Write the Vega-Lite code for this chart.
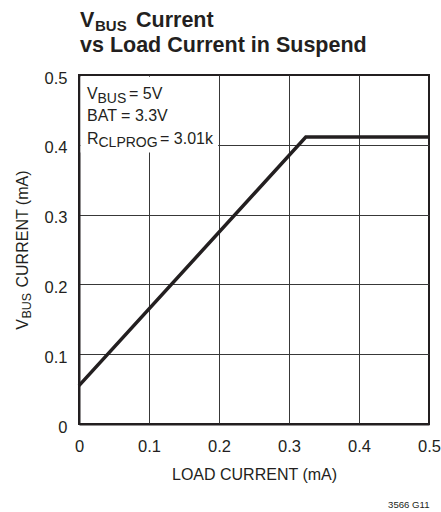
{
  "$schema": "https://vega.github.io/schema/vega-lite/v6.json",
  "width": 350,
  "height": 349,
  "autosize": {"type": "none"},
  "padding": {"left": 79, "top": 75, "right": 12, "bottom": 88},
  "background": "white",
  "config": {
    "view": {"stroke": "#231f20", "strokeWidth": 2},
    "font": "Liberation Sans",
    "text": {"font": "Liberation Sans", "color": "#231f20", "baseline": "alphabetic", "align": "left"}
  },
  "layer": [
    {
      "data": {"values": [
        {"load": 0, "vbus": 0.055},
        {"load": 0.324, "vbus": 0.411},
        {"load": 0.5, "vbus": 0.411}
      ]},
      "mark": {"type": "line", "color": "#231f20", "strokeWidth": 3.5, "strokeJoin": "miter"},
      "encoding": {
        "x": {
          "field": "load", "type": "quantitative",
          "scale": {"domain": [0, 0.5], "nice": false},
          "axis": {
            "values": [0, 0.1, 0.2, 0.3, 0.4, 0.5],
            "format": ".1~f",
            "ticks": false, "tickSize": 0,
            "labelPadding": 14.4,
            "labelFont": "Liberation Sans", "labelFontSize": 16.5, "labelColor": "#231f20",
            "labelFlush": false, "labelOverlap": false,
            "domainColor": "#231f20", "domainWidth": 2,
            "grid": true,
            "gridColor": {"condition": {"test": "datum.value === 0 || datum.value === 0.5", "value": "transparent"}, "value": "#383838"},
            "gridWidth": 1, "gridOpacity": 1,
            "title": "LOAD CURRENT (mA)",
            "titleFont": "Liberation Sans", "titleFontSize": 16, "titleFontWeight": "normal", "titleColor": "#231f20",
            "titleBaseline": "alphabetic", "titleY": 55,
            "zindex": 0
          }
        },
        "y": {
          "field": "vbus", "type": "quantitative",
          "scale": {"domain": [0, 0.5], "nice": false},
          "axis": {
            "values": [0, 0.1, 0.2, 0.3, 0.4, 0.5],
            "format": ".1~f",
            "ticks": false, "tickSize": 0,
            "labelPadding": 12, "labelOffset": 3,
            "labelFont": "Liberation Sans", "labelFontSize": 16.5, "labelColor": "#231f20",
            "labelFlush": false, "labelOverlap": false,
            "domainColor": "#231f20", "domainWidth": 2,
            "grid": true,
            "gridColor": {"condition": {"test": "datum.value === 0 || datum.value === 0.5", "value": "transparent"}, "value": "#383838"},
            "gridWidth": 1, "gridOpacity": 1,
            "title": null,
            "zindex": 0
          }
        }
      }
    },
    {
      "data": {"values": [{"note": "legend box"}]},
      "mark": {"type": "rect", "color": "white", "opacity": 1},
      "encoding": {
        "x": {"datum": 0.0022, "type": "quantitative"},
        "x2": {"datum": 0.1988},
        "y": {"datum": 0.389, "type": "quantitative"},
        "y2": {"datum": 0.4975}
      }
    },
    {
      "data": {"values": [{"t": "V"}]},
      "mark": {"type": "text", "fontSize": 21.5, "fontWeight": "bold", "dx": 1, "dy": -48},
      "encoding": {"x": {"datum": 0, "type": "quantitative"}, "y": {"datum": 0.5, "type": "quantitative"}, "text": {"field": "t"}}
    },
    {
      "data": {"values": [{"t": "BUS"}]},
      "mark": {"type": "text", "fontSize": 15, "fontWeight": "bold", "dx": 16, "dy": -44},
      "encoding": {"x": {"datum": 0, "type": "quantitative"}, "y": {"datum": 0.5, "type": "quantitative"}, "text": {"field": "t"}}
    },
    {
      "data": {"values": [{"t": "Current"}]},
      "mark": {"type": "text", "fontSize": 21.5, "fontWeight": "bold", "dx": 57, "dy": -48},
      "encoding": {"x": {"datum": 0, "type": "quantitative"}, "y": {"datum": 0.5, "type": "quantitative"}, "text": {"field": "t"}}
    },
    {
      "data": {"values": [{"t": "vs Load Current in Suspend"}]},
      "mark": {"type": "text", "fontSize": 21.5, "fontWeight": "bold", "dx": 1, "dy": -23},
      "encoding": {"x": {"datum": 0, "type": "quantitative"}, "y": {"datum": 0.5, "type": "quantitative"}, "text": {"field": "t"}}
    },
    {
      "data": {"values": [{"t": "V"}]},
      "mark": {"type": "text", "fontSize": 16, "dx": 8, "dy": 24},
      "encoding": {"x": {"datum": 0, "type": "quantitative"}, "y": {"datum": 0.5, "type": "quantitative"}, "text": {"field": "t"}}
    },
    {
      "data": {"values": [{"t": "BUS"}]},
      "mark": {"type": "text", "fontSize": 14, "dx": 18.5, "dy": 27.5},
      "encoding": {"x": {"datum": 0, "type": "quantitative"}, "y": {"datum": 0.5, "type": "quantitative"}, "text": {"field": "t"}}
    },
    {
      "data": {"values": [{"t": "= 5V"}]},
      "mark": {"type": "text", "fontSize": 16, "dx": 50, "dy": 24},
      "encoding": {"x": {"datum": 0, "type": "quantitative"}, "y": {"datum": 0.5, "type": "quantitative"}, "text": {"field": "t"}}
    },
    {
      "data": {"values": [{"t": "BAT = 3.3V"}]},
      "mark": {"type": "text", "fontSize": 16, "dx": 8, "dy": 45.5},
      "encoding": {"x": {"datum": 0, "type": "quantitative"}, "y": {"datum": 0.5, "type": "quantitative"}, "text": {"field": "t"}}
    },
    {
      "data": {"values": [{"t": "R"}]},
      "mark": {"type": "text", "fontSize": 16, "dx": 8, "dy": 68.5},
      "encoding": {"x": {"datum": 0, "type": "quantitative"}, "y": {"datum": 0.5, "type": "quantitative"}, "text": {"field": "t"}}
    },
    {
      "data": {"values": [{"t": "CLPROG"}]},
      "mark": {"type": "text", "fontSize": 14, "dx": 19.5, "dy": 72},
      "encoding": {"x": {"datum": 0, "type": "quantitative"}, "y": {"datum": 0.5, "type": "quantitative"}, "text": {"field": "t"}}
    },
    {
      "data": {"values": [{"t": "= 3.01k"}]},
      "mark": {"type": "text", "fontSize": 16, "dx": 81, "dy": 68.5},
      "encoding": {"x": {"datum": 0, "type": "quantitative"}, "y": {"datum": 0.5, "type": "quantitative"}, "text": {"field": "t"}}
    },
    {
      "data": {"values": [{"t": "V"}]},
      "mark": {"type": "text", "fontSize": 16, "angle": 270, "dx": 94.3, "dy": -51},
      "encoding": {"x": {"datum": 0, "type": "quantitative"}, "y": {"datum": 0, "type": "quantitative"}, "text": {"field": "t"}}
    },
    {
      "data": {"values": [{"t": "BUS"}]},
      "mark": {"type": "text", "fontSize": 12.5, "angle": 270, "dx": 105.5, "dy": -48.5},
      "encoding": {"x": {"datum": 0, "type": "quantitative"}, "y": {"datum": 0, "type": "quantitative"}, "text": {"field": "t"}}
    },
    {
      "data": {"values": [{"t": "CURRENT (mA)"}]},
      "mark": {"type": "text", "fontSize": 16, "angle": 270, "dx": 136.5, "dy": -51},
      "encoding": {"x": {"datum": 0, "type": "quantitative"}, "y": {"datum": 0, "type": "quantitative"}, "text": {"field": "t"}}
    },
    {
      "data": {"values": [{"t": "3566 G11"}]},
      "mark": {"type": "text", "fontSize": 9.6, "align": "right", "dx": 0.5, "dy": 84},
      "encoding": {"x": {"datum": 0.5, "type": "quantitative"}, "y": {"datum": 0, "type": "quantitative"}, "text": {"field": "t"}}
    }
  ]
}
